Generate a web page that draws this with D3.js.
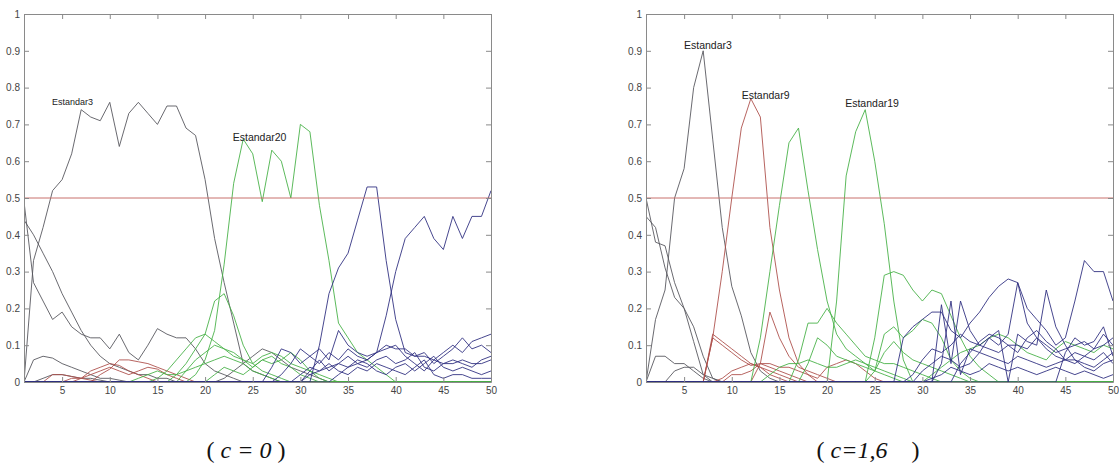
<!DOCTYPE html>
<html>
<head>
<meta charset="utf-8">
<script src="https://cdn.jsdelivr.net/npm/d3@7"></script>
<style>
  body { margin: 0; background: #fff; }
  svg { display: block; }
  .tick text { font-family: "Liberation Sans", Arial, sans-serif; font-size: 10px; fill: #444; }
  .axis path, .axis line { stroke: #8a8a8a; }
  .series { fill: none; stroke-width: 1; stroke-linejoin: round; stroke-opacity: 0.88; }
  .tag { font-family: "Liberation Sans", Arial, sans-serif; font-size: 10.5px; fill: #222; }
  .tag.small { font-size: 9px; }
  .caption { font-family: "Liberation Serif", "Times New Roman", serif; font-size: 24px; fill: #111; white-space: pre; }
</style>
</head>
<body>
<svg id="chart" width="1119" height="466"></svg>
<script>
// Pattern index along the x axis (1..50)
const xIndex = [1,2,3,4,5,6,7,8,9,10,11,12,13,14,15,16,17,18,19,20,21,22,23,24,25,
                26,27,28,29,30,31,32,33,34,35,36,37,38,39,40,41,42,43,44,45,46,47,48,49,50];
const xTicks = [5,10,15,20,25,30,35,40,45,50];
const yTicks = [0,0.1,0.2,0.3,0.4,0.5,0.6,0.7,0.8,0.9,1];
const yTickLabels = ["0","0.1","0.2","0.3","0.4","0.5","0.6","0.7","0.8","0.9","1"];
const threshold = 0.5;

// ---- c = 0 : membership curves, grouped by class colour ----
const c0Gray = [
  [0.00,0.33,0.42,0.52,0.55,0.62,0.74,0.72,0.71,0.76, 0.64,0.73,0.76,0.73,0.70,0.75,0.75,0.69,0.67,0.55,
   0.39,0.27,0.16,0.05,0.03,0.02,0.01,0,0,0, 0,0,0,0,0,0,0,0,0,0, 0,0,0,0,0,0,0,0,0,0],
  [0.44,0.40,0.35,0.30,0.24,0.19,0.14,0.10,0.07,0.05, 0.04,0.03,0.02,0.02,0.01,0.01,0,0,0,0,
   0,0,0,0,0,0,0,0,0,0, 0,0,0,0,0,0,0,0,0,0, 0,0,0,0,0,0,0,0,0,0],
  [0.49,0.27,0.22,0.17,0.19,0.15,0.13,0.12,0.12,0.09, 0.13,0.08,0.06,0.10,0.145,0.13,0.12,0.12,0.09,0.05,
   0.03,0.02,0.01,0,0,0,0,0,0,0, 0,0,0,0,0,0,0,0,0,0, 0,0,0,0,0,0,0,0,0,0],
  [0,0.06,0.07,0.065,0.05,0.04,0.03,0.02,0.01,0.01, 0.005,0,0,0,0,0,0,0,0,0,
   0,0,0,0,0,0,0,0,0,0, 0,0,0,0,0,0,0,0,0,0, 0,0,0,0,0,0,0,0,0,0],
  [0,0,0.01,0.02,0.02,0.015,0.01,0.01,0.005,0, 0,0,0,0,0,0,0,0,0,0,
   0,0,0,0,0,0,0,0,0,0, 0,0,0,0,0,0,0,0,0,0, 0,0,0,0,0,0,0,0,0,0],
  [0,0,0,0,0,0,0,0,0,0, 0,0,0,0,0,0,0,0,0,0,
   0,0.01,0.03,0.05,0.07,0.09,0.08,0.06,0.04,0.03, 0.02,0.01,0,0,0,0,0,0,0,0, 0,0,0,0,0,0,0,0,0,0]
];
const c0Red = [
  [0,0,0,0,0,0,0.01,0.03,0.04,0.05, 0.045,0.03,0.02,0.01,0,0,0,0,0,0,
   0,0,0,0,0,0,0,0,0,0, 0,0,0,0,0,0,0,0,0,0, 0,0,0,0,0,0,0,0,0,0],
  [0,0,0,0,0,0,0,0,0.02,0.035, 0.06,0.06,0.055,0.05,0.04,0.03,0.02,0.01,0,0,
   0,0,0,0,0,0,0,0,0,0, 0,0,0,0,0,0,0,0,0,0, 0,0,0,0,0,0,0,0,0,0],
  [0,0,0,0,0,0.01,0.01,0.02,0.03,0.04, 0.03,0.02,0.03,0.04,0.035,0.02,0.01,0,0,0,
   0,0,0,0,0,0,0,0,0,0, 0,0,0,0,0,0,0,0,0,0, 0,0,0,0,0,0,0,0,0,0],
  [0,0,0,0.02,0.02,0.015,0.01,0.005,0,0, 0,0,0,0,0,0,0,0,0,0,
   0,0,0,0,0,0,0,0,0,0, 0,0,0,0,0,0,0,0,0,0, 0,0,0,0,0,0,0,0,0,0]
];
const c0Green = [
  [0,0,0,0,0,0,0,0,0,0, 0,0,0,0,0,0,0,0,0.02,0.06,
   0.14,0.32,0.54,0.66,0.62,0.49,0.63,0.60,0.50,0.70, 0.68,0.48,0.33,0.16,0.12,0.08,0.06,0.04,0.02,0,
   0,0,0,0,0,0,0,0,0,0],
  [0,0,0,0,0,0,0,0,0,0, 0,0,0,0,0,0,0.02,0.05,0.09,0.13,
   0.22,0.24,0.18,0.10,0.05,0.03,0.02,0.01,0,0, 0,0,0,0,0,0,0,0,0,0, 0,0,0,0,0,0,0,0,0,0],
  [0,0,0,0,0,0,0,0,0,0, 0,0,0,0,0.01,0.03,0.06,0.09,0.12,0.13,
   0.11,0.09,0.07,0.06,0.05,0.07,0.08,0.07,0.05,0.04, 0.03,0.02,0.01,0,0,0,0,0,0,0, 0,0,0,0,0,0,0,0,0,0],
  [0,0,0,0,0,0,0,0,0,0, 0,0,0,0,0,0,0,0.03,0.06,0.08,
   0.10,0.09,0.08,0.06,0.04,0.06,0.07,0.05,0.04,0.02, 0.01,0,0,0,0,0,0,0,0,0, 0,0,0,0,0,0,0,0,0,0],
  [0,0,0,0,0,0,0,0,0,0, 0,0,0.01,0.02,0.03,0.02,0.02,0.03,0.04,0.05,
   0.06,0.07,0.06,0.05,0.03,0.02,0.01,0,0,0, 0,0,0,0,0,0,0,0,0,0, 0,0,0,0,0,0,0,0,0,0],
  [0,0,0,0,0,0,0,0,0,0, 0,0,0,0,0,0,0,0,0,0,
   0.02,0.04,0.03,0.02,0.04,0.06,0.05,0.06,0.08,0.06, 0.03,0.01,0,0,0,0,0,0,0,0, 0,0,0,0,0,0,0,0,0,0]
];
const c0Blue = [
  [0,0,0,0,0,0,0,0,0,0, 0,0,0,0,0,0,0,0,0,0, 0,0,0,0,0,0,0,0,0,0,
   0,0.10,0.24,0.31,0.35,0.44,0.53,0.53,0.33,0.17, 0.08,0.07,0.07,0.06,0.05,0.05,0.06,0.05,0.05,0.06],
  [0,0,0,0,0,0,0,0,0,0, 0,0,0,0,0,0,0,0,0,0, 0,0,0,0,0,0,0,0,0,0,
   0.02,0.03,0.04,0.05,0.04,0.05,0.06,0.08,0.18,0.30, 0.39,0.42,0.45,0.39,0.36,0.45,0.39,0.45,0.45,0.52],
  [0,0,0,0,0,0,0,0,0,0, 0,0,0,0,0,0,0,0,0,0, 0,0,0,0,0,0,0.04,0.09,0.08,0.05,
   0.07,0.09,0.06,0.14,0.10,0.08,0.07,0.08,0.09,0.10, 0.07,0.05,0.03,0.06,0.08,0.10,0.08,0.11,0.12,0.13],
  [0,0,0,0,0,0,0,0,0,0, 0,0,0,0,0,0,0,0,0,0, 0,0,0,0,0,0,0,0.02,0.05,0.09,
   0.07,0.05,0.08,0.06,0.09,0.07,0.06,0.08,0.10,0.09, 0.09,0.07,0.08,0.05,0.07,0.09,0.12,0.09,0.10,0.08],
  [0,0,0,0,0,0,0,0,0,0, 0,0,0,0,0,0,0,0,0,0, 0,0,0,0,0,0,0,0,0,0,
   0.03,0.06,0.03,0.05,0.07,0.05,0.04,0.06,0.07,0.05, 0.06,0.08,0.04,0.03,0.05,0.06,0.05,0.04,0.06,0.07],
  [0,0,0,0,0,0,0,0,0,0, 0,0,0,0,0,0,0,0,0,0, 0,0,0,0,0,0,0,0,0,0,
   0,0,0,0.02,0.04,0.06,0.05,0.03,0.02,0.04, 0.05,0.03,0.05,0.07,0.04,0.03,0.04,0.03,0.02,0.03],
  [0,0,0,0,0,0,0,0,0,0, 0,0,0,0,0,0,0,0,0,0, 0,0,0,0,0,0,0,0,0,0.02,
   0.04,0.03,0.05,0.03,0.02,0.04,0.03,0.05,0.04,0.03, 0.02,0.04,0.06,0.02,0.01,0.02,0.02,0.01,0.01,0.01]
];
const c0Labels = [
  { text: "Estandar3", x: 3.94, y: 0.753, small: true },
  { text: "Estandar20", x: 22.9, y: 0.655, small: false }
];

// ---- c = 1,6 ----
const c16Gray = [
  [0,0.17,0.25,0.50,0.58,0.80,0.90,0.66,0.42,0.26, 0.18,0.08,0.03,0.01,0,0,0,0,0,0,
   0,0,0,0,0,0,0,0,0,0, 0,0,0,0,0,0,0,0,0,0, 0,0,0,0,0,0,0,0,0,0],
  [0.50,0.38,0.37,0.27,0.20,0.11,0.02,0,0,0, 0,0,0,0,0,0,0,0,0,0,
   0,0,0,0,0,0,0,0,0,0, 0,0,0,0,0,0,0,0,0,0, 0,0,0,0,0,0,0,0,0,0],
  [0.45,0.42,0.31,0.23,0.20,0.15,0.07,0.01,0,0, 0,0,0,0,0,0,0,0,0,0,
   0,0,0,0,0,0,0,0,0,0, 0,0,0,0,0,0,0,0,0,0, 0,0,0,0,0,0,0,0,0,0],
  [0,0.07,0.07,0.05,0.05,0.03,0.01,0,0,0, 0,0,0,0,0,0,0,0,0,0,
   0,0,0,0,0,0,0,0,0,0, 0,0,0,0,0,0,0,0,0,0, 0,0,0,0,0,0,0,0,0,0],
  [0,0,0,0.03,0.04,0.04,0.02,0.01,0,0, 0,0,0,0,0,0,0,0,0,0,
   0,0,0,0,0,0,0,0,0,0, 0,0,0,0,0,0,0,0,0,0, 0,0,0,0,0,0,0,0,0,0]
];
const c16Red = [
  [0,0,0,0,0,0,0,0.12,0.30,0.50, 0.69,0.77,0.72,0.42,0.25,0.12,0.05,0.02,0,0,
   0,0,0,0,0,0,0,0,0,0, 0,0,0,0,0,0,0,0,0,0, 0,0,0,0,0,0,0,0,0,0],
  [0,0,0,0,0,0,0,0.13,0.11,0.09, 0.07,0.05,0.04,0.03,0.02,0.01,0,0,0,0,
   0,0,0,0,0,0,0,0,0,0, 0,0,0,0,0,0,0,0,0,0, 0,0,0,0,0,0,0,0,0,0],
  [0,0,0,0,0,0,0,0.12,0.10,0.08, 0.06,0.045,0.05,0.04,0.03,0.02,0.01,0,0,0,
   0,0,0,0,0,0,0,0,0,0, 0,0,0,0,0,0,0,0,0,0, 0,0,0,0,0,0,0,0,0,0],
  [0,0,0,0,0,0,0,0,0,0, 0,0,0.05,0.19,0.12,0.07,0.04,0.03,0.02,0.01,
   0,0,0,0,0,0,0,0,0,0, 0,0,0,0,0,0,0,0,0,0, 0,0,0,0,0,0,0,0,0,0],
  [0,0,0,0,0,0,0,0,0.01,0.03, 0.04,0.05,0.04,0.02,0.01,0,0,0,0,0,
   0,0,0,0,0,0,0,0,0,0, 0,0,0,0,0,0,0,0,0,0, 0,0,0,0,0,0,0,0,0,0],
  [0,0,0,0,0,0,0,0,0,0.02, 0.02,0.03,0.05,0.05,0.04,0.04,0.03,0.02,0.01,0.04,
   0.05,0.06,0.05,0.03,0.01,0,0,0,0,0, 0,0,0,0,0,0,0,0,0,0, 0,0,0,0,0,0,0,0,0,0]
];
const c16Green = [
  [0,0,0,0,0,0,0,0,0,0, 0,0,0.12,0.30,0.48,0.65,0.69,0.52,0.36,0.22,
   0.13,0.09,0.07,0.05,0.04,0.03,0.02,0.01,0,0, 0,0,0,0,0,0,0,0,0,0, 0,0,0,0,0,0,0,0,0,0],
  [0,0,0,0,0,0,0,0,0,0, 0,0,0,0,0,0,0,0,0,0,
   0.22,0.56,0.68,0.74,0.60,0.43,0.22,0.06,0,0, 0,0,0,0,0,0,0,0,0,0, 0,0,0,0,0,0,0,0,0,0],
  [0,0,0,0,0,0,0,0,0,0, 0,0,0,0,0,0,0,0,0,0,
   0,0,0,0,0.12,0.29,0.30,0.29,0.25,0.22, 0.25,0.24,0.18,0.12,0.07,0.04,0.02,0,0,0, 0,0,0,0,0,0,0,0,0,0],
  [0,0,0,0,0,0,0,0,0,0, 0,0,0,0,0,0,0.06,0.16,0.16,0.20,
   0.16,0.13,0.10,0.07,0.06,0.05,0.05,0.04,0.03,0.02, 0.01,0,0,0,0,0,0,0,0,0, 0,0,0,0,0,0,0,0,0,0],
  [0,0,0,0,0,0,0,0,0,0, 0,0,0,0,0,0,0,0,0,0,
   0,0,0,0,0.03,0.13,0.15,0.12,0.14,0.17, 0.16,0.12,0.06,0.03,0.01,0,0,0,0,0, 0,0,0,0,0,0,0,0,0,0],
  [0,0,0,0,0,0,0,0,0,0, 0,0,0,0,0,0,0,0.05,0.12,0.10,
   0.07,0.06,0.05,0.04,0.03,0.08,0.11,0.08,0.06,0.05, 0.04,0.03,0.02,0.01,0,0,0,0,0,0, 0,0,0,0,0,0,0,0,0,0],
  [0,0,0,0,0,0,0,0,0,0, 0,0,0,0,0,0,0,0,0,0, 0,0,0,0,0,0,0,0,0,0,
   0.02,0.04,0.06,0.08,0.09,0.10,0.12,0.13,0.12,0.10, 0.08,0.07,0.06,0.09,0.11,0.10,0.09,0.08,0.10,0.09],
  [0,0,0,0,0,0,0,0,0,0, 0,0,0,0.02,0.04,0.05,0.05,0.06,0.05,0.04,
   0.04,0.05,0.06,0.05,0.03,0.02,0.01,0,0,0, 0,0,0,0,0,0,0,0,0,0, 0,0,0,0,0,0,0,0,0,0]
];
const c16Blue = [
  [0,0,0,0,0,0,0,0,0,0, 0,0,0,0,0,0,0,0,0,0, 0,0,0,0,0,0,0,0.12,0.15,0.17,
   0.19,0.19,0.14,0.12,0.16,0.19,0.23,0.26,0.28,0.27, 0.20,0.17,0.14,0.10,0.12,0.22,0.33,0.30,0.30,0.22],
  [0,0,0,0,0,0,0,0,0,0, 0,0,0,0,0,0,0,0,0,0, 0,0,0,0,0,0,0,0,0,0,
   0,0.21,0.05,0.22,0.14,0.10,0.12,0.10,0.13,0.27, 0.16,0.12,0.09,0.07,0.06,0.08,0.07,0.09,0.10,0.12],
  [0,0,0,0,0,0,0,0,0,0, 0,0,0,0,0,0,0,0,0,0, 0,0,0,0,0,0,0,0,0,0,
   0,0.05,0.22,0.02,0.09,0.08,0.12,0.14,0,0.13, 0.11,0.10,0.25,0.15,0.10,0.06,0.05,0.04,0.06,0.08],
  [0,0,0,0,0,0,0,0,0,0, 0,0,0,0,0,0,0,0,0,0, 0,0,0,0,0,0,0,0,0.02,0.06,
   0.09,0.08,0.10,0.13,0.11,0.10,0.09,0.08,0.10,0.10, 0.09,0.12,0.10,0.08,0.09,0.10,0.11,0.09,0.13,0.10],
  [0,0,0,0,0,0,0,0,0,0, 0,0,0,0,0,0,0,0,0,0, 0,0,0,0,0,0,0,0,0,0.03,
   0.05,0.07,0.06,0.04,0.05,0.08,0.07,0.06,0.05,0.07, 0.06,0.05,0.04,0.05,0.06,0.06,0.04,0.03,0.05,0.06],
  [0,0,0,0,0,0,0,0,0,0, 0,0,0,0,0,0,0,0,0,0, 0,0,0,0,0,0,0,0,0,0,
   0.01,0.02,0.04,0.03,0.02,0.03,0.05,0.04,0.03,0.04, 0.03,0.02,0.03,0.04,0.03,0.02,0.03,0.02,0.01,0.02],
  [0,0,0,0,0,0,0,0,0,0, 0,0,0,0,0,0,0,0,0,0, 0,0,0,0,0,0,0,0,0,0,
   0,0,0,0.05,0.08,0.11,0.13,0.12,0.10,0.08, 0.12,0.14,0.11,0.09,0.06,0.05,0.07,0.06,0.08,0.05],
  [0,0,0,0,0,0,0,0,0,0, 0,0,0,0,0,0,0,0,0,0, 0,0,0,0,0,0,0,0,0,0,
   0,0,0,0,0,0,0,0,0,0, 0,0,0,0,0.08,0.12,0.10,0.11,0.15,0.07]
];
const c16Labels = [
  { text: "Estandar3", x: 4.99, y: 0.905, small: false },
  { text: "Estandar9", x: 11.04, y: 0.769, small: false },
  { text: "Estandar19", x: 21.9, y: 0.747, small: false }
];

const colours = { gray: "#55555c", red: "#ad4f4a", green: "#45b045", blue: "#2e2e80", threshold: "#c8706c" };

const svg = d3.select("#chart");

function drawPanel(opt) {
  const x = d3.scaleLinear().domain([1, 50]).range([opt.left, opt.right]);
  const y = d3.scaleLinear().domain([0, 1]).range([382, 14]);
  const g = svg.append("g");

  const clipId = "clip-" + opt.id;
  g.append("clipPath").attr("id", clipId)
    .append("rect")
    .attr("x", x(1)).attr("y", y(1))
    .attr("width", x(50) - x(1)).attr("height", y(0) - y(1) + 1);

  const line = d3.line().x((d, i) => x(xIndex[i])).y(d => y(d));
  const plot = g.append("g").attr("clip-path", `url(#${clipId})`);

  opt.groups.forEach(grp => {
    plot.selectAll(null).data(grp.series).enter().append("path")
      .attr("class", "series")
      .attr("stroke", grp.colour)
      .attr("d", line);
  });

  plot.append("line")
    .attr("x1", x(1)).attr("x2", x(50))
    .attr("y1", y(threshold)).attr("y2", y(threshold))
    .attr("stroke", colours.threshold).attr("stroke-width", 1);

  // box axes with inward ticks
  g.append("g").attr("class", "axis").attr("transform", `translate(0,${y(0)})`)
    .call(d3.axisBottom(x).tickValues(xTicks).tickSizeInner(-5).tickSizeOuter(0).tickPadding(5));
  g.append("g").attr("class", "axis").attr("transform", `translate(0,${y(1)})`)
    .call(d3.axisTop(x).tickValues(xTicks).tickSizeInner(-5).tickSizeOuter(0).tickFormat(""));
  g.append("g").attr("class", "axis").attr("transform", `translate(${x(1)},0)`)
    .call(d3.axisLeft(y).tickValues(yTicks).tickSizeInner(-5).tickSizeOuter(0).tickPadding(4)
      .tickFormat((d, i) => yTickLabels[i]));
  g.append("g").attr("class", "axis").attr("transform", `translate(${x(50)},0)`)
    .call(d3.axisRight(y).tickValues(yTicks).tickSizeInner(-5).tickSizeOuter(0).tickFormat(""));

  g.selectAll(".tag").data(opt.labels).enter().append("text")
    .attr("class", d => d.small ? "tag small" : "tag")
    .attr("x", d => x(d.x)).attr("y", d => y(d.y))
    .text(d => d.text);

  const cap = g.append("text").attr("class", "caption")
    .attr("x", opt.captionX).attr("y", 458).attr("text-anchor", "middle");
  cap.append("tspan").text("(");
  cap.append("tspan").attr("font-style", "italic").text(opt.captionBody);
  cap.append("tspan").text(")");
}

drawPanel({
  id: "c0", left: 24, right: 491, captionX: 246, captionBody: " c = 0 ",
  groups: [
    { series: c0Gray, colour: colours.gray },
    { series: c0Red, colour: colours.red },
    { series: c0Green, colour: colours.green },
    { series: c0Blue, colour: colours.blue }
  ],
  labels: c0Labels
});

drawPanel({
  id: "c16", left: 646, right: 1113, captionX: 868, captionBody: " c=1,6    ",
  groups: [
    { series: c16Gray, colour: colours.gray },
    { series: c16Red, colour: colours.red },
    { series: c16Green, colour: colours.green },
    { series: c16Blue, colour: colours.blue }
  ],
  labels: c16Labels
});
</script>
</body>
</html>
